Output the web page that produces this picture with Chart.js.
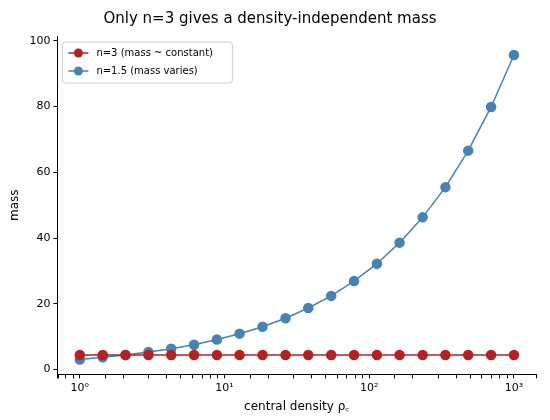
<!DOCTYPE html>
<html>
<head>
<meta charset="utf-8">
<script src="https://cdn.jsdelivr.net/npm/chart.js@4"></script>
<style>
body { margin: 0; background: #fff; }
</style>
</head>
<body>
<canvas id="chart" width="550" height="420"></canvas>
<script>
const densities = [1, 1.44, 2.07, 2.98, 4.28, 6.16, 8.86, 12.7, 18.3, 26.4, 37.9, 54.6, 78.5, 113, 162, 234, 336, 483, 695, 1000];
const massN3 = [4.4, 4.4, 4.4, 4.4, 4.4, 4.4, 4.4, 4.4, 4.4, 4.4, 4.4, 4.4, 4.4, 4.4, 4.4, 4.4, 4.4, 4.4, 4.4, 4.4];
const massN15 = [3.0, 3.7, 4.4, 5.3, 6.3, 7.5, 9.1, 10.9, 13.0, 15.6, 18.7, 22.4, 26.9, 32.2, 38.6, 46.3, 55.5, 66.6, 79.9, 95.7];
const yTicks = [0, 20, 40, 60, 80, 100];
const seriesLabels = ['n=3 (mass ~ constant)', 'n=1.5 (mass varies)'];
const colors = ['#b22222', '#4682b4'];

const sup = { '0': '⁰', '1': '¹', '2': '²', '3': '³' };

const legendBox = {
    id: 'legendBox',
    afterDraw(chart) {
        const ctx = chart.ctx;
        const a = chart.chartArea;
        const x = a.left + 5, y = a.top + 6;
        ctx.save();
        ctx.fillStyle = 'rgba(255,255,255,0.8)';
        ctx.strokeStyle = '#ccc';
        ctx.lineWidth = 1;
        ctx.beginPath();
        ctx.roundRect(x, y, 170, 41, 3);
        ctx.fill();
        ctx.stroke();
        ctx.font = '10px "DejaVu Sans"';
        ctx.textBaseline = 'middle';
        seriesLabels.forEach((lab, i) => {
            const ly = y + 11 + i * 18;
            ctx.strokeStyle = colors[i];
            ctx.fillStyle = colors[i];
            ctx.lineWidth = 1.5;
            ctx.beginPath();
            ctx.moveTo(x + 6, ly);
            ctx.lineTo(x + 26, ly);
            ctx.stroke();
            ctx.beginPath();
            ctx.arc(x + 16, ly, 4.5, 0, Math.PI * 2);
            ctx.fill();
            ctx.fillStyle = '#000';
            ctx.fillText(lab, x + 34, ly);
        });
        ctx.restore();
    }
};

new Chart(document.getElementById('chart'), {
    type: 'line',
    data: {
        datasets: [
            { label: seriesLabels[0], data: densities.map((d, i) => ({ x: d, y: massN3[i] })) },
            { label: seriesLabels[1], data: densities.map((d, i) => ({ x: d, y: massN15[i] })) }
        ].map((ds, i) => Object.assign(ds, {
            borderColor: colors[i],
            backgroundColor: colors[i],
            borderWidth: 1.5,
            pointRadius: 4.5,
            pointHoverRadius: 4.5
        }))
    },
    options: {
        responsive: false,
        animation: false,
        layout: { padding: { left: 4, right: 14, top: 4, bottom: 2 } },
        plugins: {
            legend: { display: false },
            tooltip: { enabled: false },
            title: {
                display: true,
                text: 'Only n=3 gives a density-independent mass',
                color: '#000',
                font: { family: 'DejaVu Sans', size: 15, weight: 'normal' },
                padding: { top: 6, bottom: 8 }
            }
        },
        scales: {
            x: {
                type: 'logarithmic',
                min: 0.71,
                max: 1420,
                border: { color: '#000', width: 1 },
                grid: { drawOnChartArea: false, color: '#000', tickLength: 4 },
                ticks: {
                    color: '#000',
                    font: { family: 'DejaVu Sans', size: 11 },
                    autoSkip: false,
                    maxRotation: 0,
                    callback: v => {
                        const e = Math.log10(v);
                        return Math.abs(e - Math.round(e)) < 1e-9 ? '10' + sup[String(Math.round(e))] : '';
                    }
                },
                title: {
                    display: true,
                    text: 'central density ρ꜀',
                    color: '#000',
                    font: { family: 'DejaVu Sans', size: 12 },
                    padding: { top: 2 }
                }
            },
            y: {
                min: -1.5,
                max: 101.5,
                afterBuildTicks: axis => { axis.ticks = yTicks.map(v => ({ value: v })); },
                border: { color: '#000', width: 1 },
                grid: { drawOnChartArea: false, color: '#000', tickLength: 4 },
                ticks: { color: '#000', font: { family: 'DejaVu Sans', size: 11 } },
                title: {
                    display: true,
                    text: 'mass',
                    color: '#000',
                    font: { family: 'DejaVu Sans', size: 12 }
                }
            }
        }
    },
    plugins: [legendBox]
});
</script>
</body>
</html>
